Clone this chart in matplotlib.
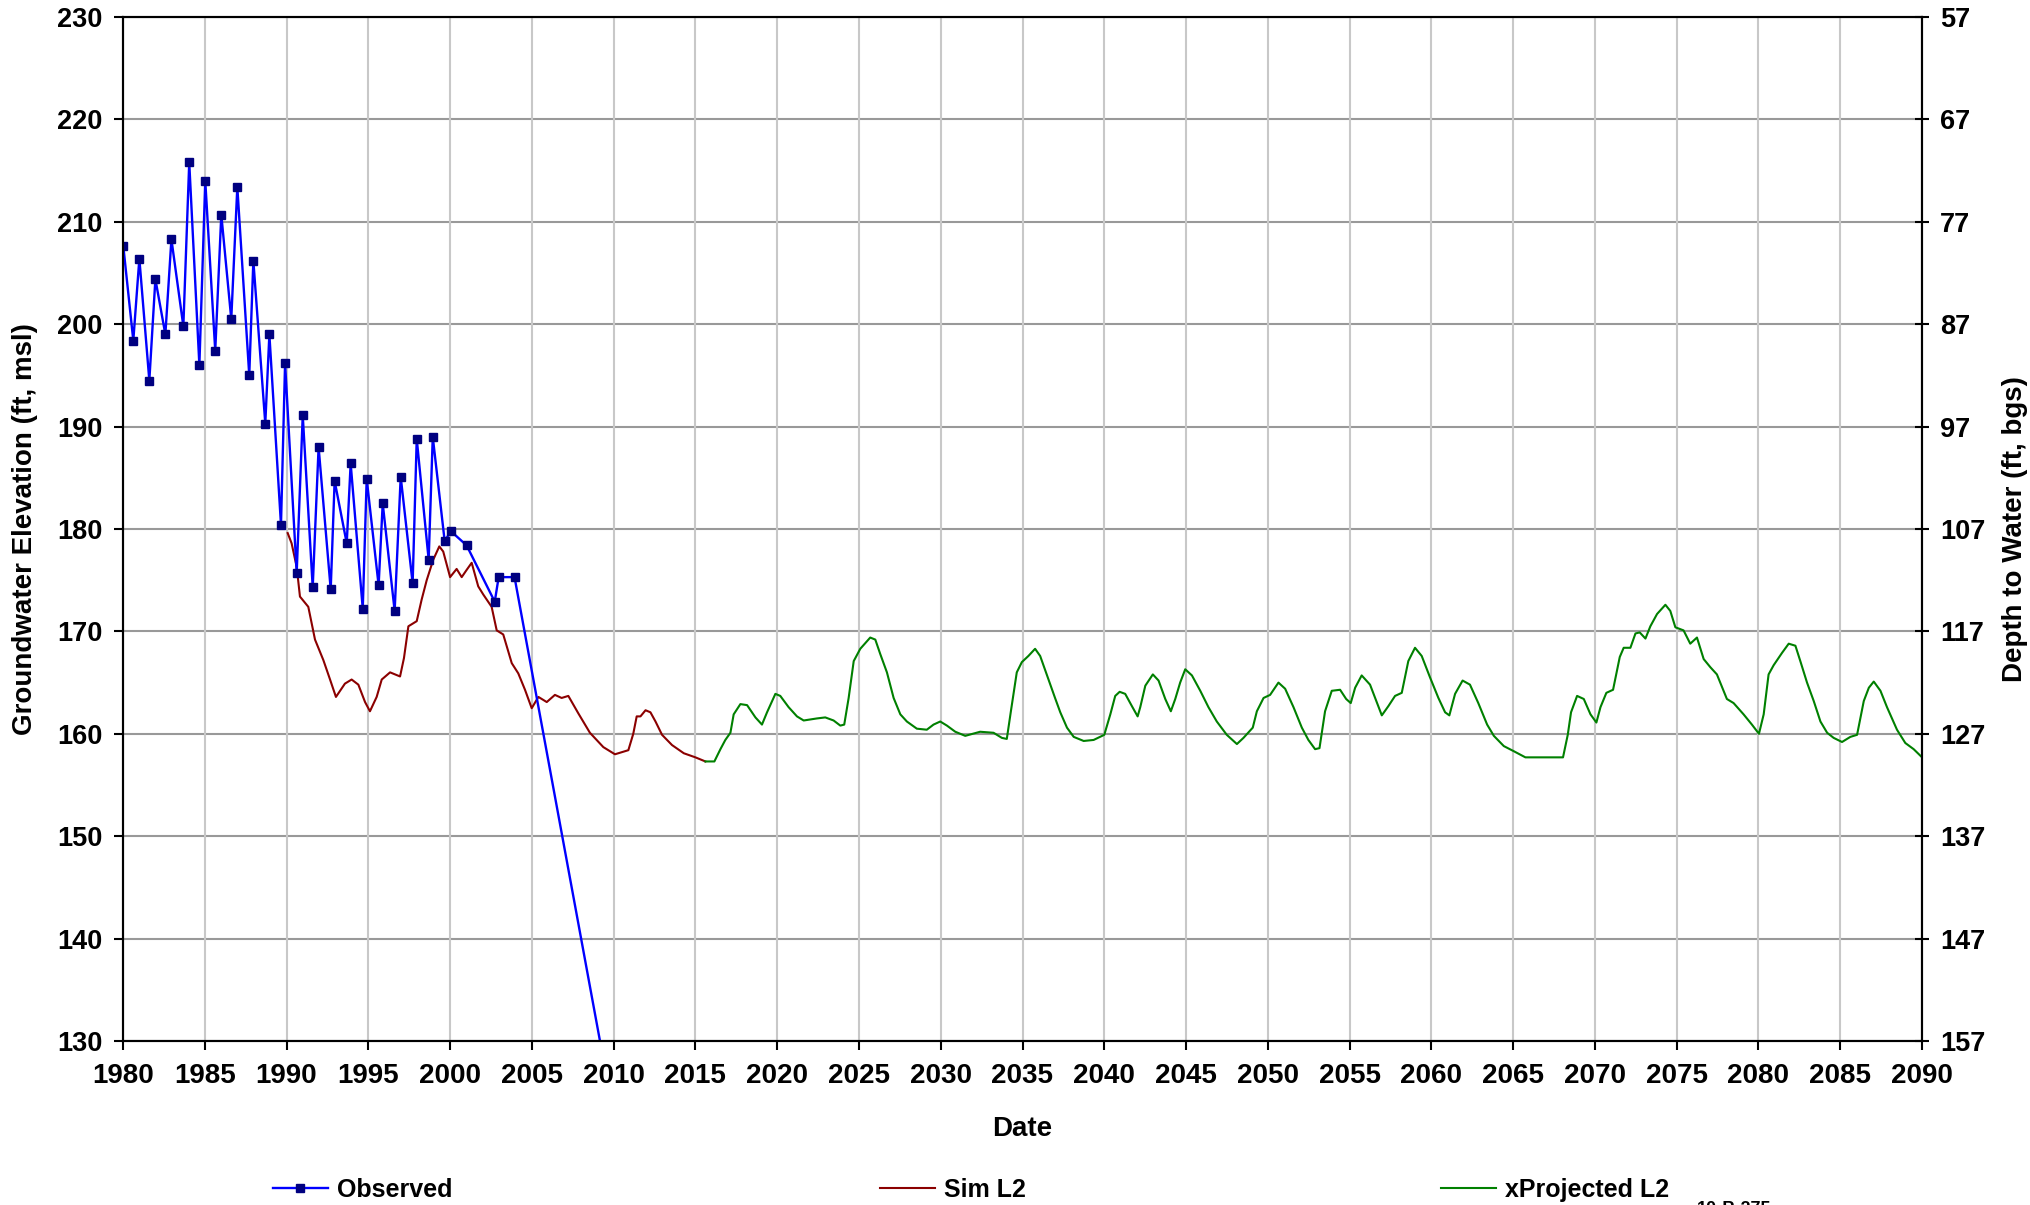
import matplotlib
matplotlib.use("Agg")
import matplotlib.pyplot as plt
from matplotlib.lines import Line2D

plt.rcParams['font.family'] = ['Liberation Sans', 'DejaVu Sans']
plt.rcParams['font.weight'] = 'bold'

# ---------------- data ----------------
obs_years = [1980.02, 1980.63, 1981.00, 1981.61, 1981.98, 1982.59, 1982.96, 1983.69,
             1984.05, 1984.67, 1985.03, 1985.64, 1986.01, 1986.62, 1986.99, 1987.72,
             1987.97, 1988.70, 1988.95, 1989.66, 1989.91, 1990.62, 1990.99, 1991.60,
             1991.96, 1992.70, 1992.94, 1993.68, 1993.92, 1994.66, 1994.90, 1995.63,
             1995.88, 1996.61, 1996.98, 1997.71, 1997.96, 1998.69, 1998.94, 1999.67,
             2000.04, 2001.01, 2002.73, 2002.97, 2003.94, 2024.16]
obs_vals = [207.6, 198.4, 206.4, 194.5, 204.4, 199.0, 208.3, 199.8,
            215.8, 196.0, 214.0, 197.4, 210.7, 200.5, 213.4, 195.0,
            206.2, 190.3, 199.0, 180.4, 196.2, 175.7, 191.1, 174.3,
            188.0, 174.1, 184.7, 178.6, 186.4, 172.2, 184.9, 174.5,
            182.5, 172.0, 185.1, 174.7, 188.8, 177.0, 189.0, 178.8,
            179.8, 178.4, 172.9, 175.3, 175.3, 0.0]

sim_years = [1990.07, 1990.31, 1990.62, 1990.82, 1991.33, 1991.74, 1992.25, 1992.66,
             1993.02, 1993.57, 1993.98, 1994.39, 1994.80, 1995.10, 1995.51, 1995.82,
             1996.33, 1996.94, 1997.18, 1997.45, 1997.96, 1998.26, 1998.57, 1998.97,
             1999.34, 1999.58, 2000.00, 2000.40, 2000.71, 2001.01, 2001.32, 2001.72,
             2002.03, 2002.54, 2002.85, 2003.25, 2003.77, 2004.17, 2004.58, 2004.99,
             2005.40, 2005.91, 2006.41, 2006.82, 2007.23, 2007.84, 2008.55, 2009.37,
             2010.08, 2010.90, 2011.20, 2011.41, 2011.64, 2011.95, 2012.25, 2012.56,
             2012.96, 2013.57, 2014.29, 2015.00, 2015.61]
sim_vals = [179.6, 178.6, 176.3, 173.4, 172.4, 169.2, 167.2, 165.3,
            163.6, 164.9, 165.3, 164.8, 163.1, 162.2, 163.6, 165.3,
            166.0, 165.6, 167.4, 170.5, 171.0, 173.1, 175.0, 177.0,
            178.3, 177.8, 175.3, 176.1, 175.3, 176.0, 176.7, 174.4,
            173.6, 172.4, 170.1, 169.7, 166.9, 165.9, 164.3, 162.5,
            163.6, 163.1, 163.8, 163.5, 163.7, 162.0, 160.1, 158.7,
            158.0, 158.4, 160.0, 161.7, 161.7, 162.3, 162.1, 161.2,
            159.9, 158.9, 158.1, 157.7, 157.3]

proj_years = [2015.61, 2016.16, 2016.53, 2016.83, 2017.14, 2017.34, 2017.75, 2018.16,
              2018.67, 2019.07, 2019.38, 2019.89, 2020.19, 2020.70, 2021.21, 2021.62,
              2022.43, 2022.94, 2023.45, 2023.86, 2024.10, 2024.37, 2024.68, 2025.08,
              2025.69, 2026.00, 2026.30, 2026.71, 2027.12, 2027.53, 2027.93, 2028.54,
              2029.15, 2029.56, 2029.97, 2030.38, 2030.89, 2031.50, 2032.41, 2033.23,
              2033.74, 2034.04, 2034.29, 2034.65, 2034.96, 2035.36, 2035.77, 2036.08,
              2036.48, 2036.99, 2037.31, 2037.72, 2038.13, 2038.74, 2039.35, 2040.00,
              2040.37, 2040.67, 2040.94, 2041.28, 2041.69, 2042.04, 2042.20, 2042.51,
              2042.97, 2043.32, 2043.73, 2044.07, 2044.34, 2044.64, 2044.95, 2045.36,
              2045.87, 2046.37, 2046.88, 2047.49, 2048.11, 2048.51, 2049.08, 2049.33,
              2049.74, 2050.14, 2050.65, 2051.06, 2051.57, 2052.08, 2052.48, 2052.89,
              2053.16, 2053.50, 2053.91, 2054.42, 2054.79, 2055.07, 2055.34, 2055.74,
              2056.25, 2056.56, 2056.97, 2057.37, 2057.78, 2058.19, 2058.59, 2059.00,
              2059.41, 2059.92, 2060.43, 2060.84, 2061.10, 2061.45, 2061.91, 2062.36,
              2062.87, 2063.41, 2063.82, 2064.43, 2065.04, 2065.75, 2066.67, 2068.05,
              2068.34, 2068.54, 2068.91, 2069.32, 2069.73, 2070.09, 2070.34, 2070.70,
              2071.11, 2071.52, 2071.76, 2072.17, 2072.48, 2072.74, 2073.09, 2073.39,
              2073.80, 2074.31, 2074.61, 2074.92, 2075.42, 2075.83, 2076.24, 2076.65,
              2077.06, 2077.46, 2078.07, 2078.48, 2079.09, 2079.60, 2080.03, 2080.32,
              2080.62, 2080.93, 2081.44, 2081.85, 2082.26, 2082.56, 2082.97, 2083.38,
              2083.79, 2084.20, 2084.60, 2085.11, 2085.62, 2086.03, 2086.44, 2086.75,
              2087.05, 2087.46, 2087.86, 2088.47, 2088.98, 2089.49, 2089.94]
proj_vals = [157.3, 157.3, 158.5, 159.4, 160.1, 161.9, 162.9, 162.8,
             161.6, 160.9, 162.1, 163.9, 163.7, 162.6, 161.7, 161.3,
             161.5, 161.6, 161.3, 160.8, 160.9, 163.5, 167.1, 168.3,
             169.4, 169.2, 167.8, 166.0, 163.5, 161.9, 161.2, 160.5,
             160.4, 160.9, 161.2, 160.8, 160.2, 159.8, 160.2, 160.1,
             159.6, 159.5, 162.2, 166.0, 167.0, 167.6, 168.3, 167.6,
             165.8, 163.5, 162.1, 160.6, 159.7, 159.3, 159.4, 159.9,
             161.9, 163.7, 164.1, 163.9, 162.7, 161.7, 162.6, 164.7,
             165.8, 165.2, 163.4, 162.2, 163.4, 165.0, 166.3, 165.7,
             164.2, 162.6, 161.2, 159.9, 159.0, 159.6, 160.6, 162.2,
             163.5, 163.8, 165.0, 164.4, 162.6, 160.6, 159.4, 158.5,
             158.6, 162.2, 164.2, 164.3, 163.4, 163.0, 164.5, 165.7,
             164.8, 163.5, 161.8, 162.7, 163.7, 164.0, 167.1, 168.4,
             167.6, 165.5, 163.5, 162.1, 161.8, 163.9, 165.2, 164.8,
             163.0, 160.9, 159.8, 158.8, 158.3, 157.7, 157.7, 157.7,
             159.9, 162.1, 163.7, 163.4, 161.9, 161.1, 162.6, 164.0,
             164.3, 167.5, 168.4, 168.4, 169.8, 169.9, 169.3, 170.5,
             171.7, 172.6, 172.0, 170.4, 170.1, 168.8, 169.4, 167.3,
             166.5, 165.8, 163.4, 163.0, 161.9, 160.9, 160.0, 161.9,
             165.8, 166.7, 167.9, 168.8, 168.6, 167.1, 165.0, 163.2,
             161.2, 160.1, 159.6, 159.2, 159.7, 159.9, 163.2, 164.5,
             165.1, 164.2, 162.6, 160.4, 159.1, 158.5, 157.8]

x_ticks = list(range(1980, 2091, 5))
left_ticks = list(range(130, 231, 10))
right_ticks = list(range(57, 158, 10))

# ---------------- figure ----------------
W, H = 2031, 1205
fig = plt.figure(figsize=(W / 100, H / 100), dpi=100)
ax = fig.add_axes([123 / W, 1 - 1041 / H, (1922 - 123) / W, (1041 - 17) / H])

ax.set_xlim(1980, 2090)
ax.set_ylim(130, 230)
ax.set_xticks(x_ticks)
ax.set_yticks(left_ticks)

# grid
for y in left_ticks:
    ax.axhline(y, color='#999999', lw=1.5, zorder=0)
for x in x_ticks:
    ax.axvline(x, color='#c8c8c8', lw=1.5, zorder=0)

ax.plot(obs_years, obs_vals, color='#0000ff', lw=1.7, marker='s', ms=5.5,
        mfc='#000080', mec='#000080', zorder=4)
ax.plot(sim_years, sim_vals, color='#8b0000', lw=1.5, zorder=3)
ax.plot(proj_years, proj_vals, color='#008000', lw=1.5, zorder=3)

for s in ax.spines.values():
    s.set_linewidth(1.5)
ax.tick_params(axis='both', which='major', labelsize=20, width=1.5, length=6.5,
               direction='out', pad=9)
ax.tick_params(axis='y', labelsize=19.5, pad=8)
for lab in ax.get_xticklabels() + ax.get_yticklabels():
    lab.set_fontweight('bold')

ax.set_xlabel('Date', fontsize=20, fontweight='bold', labelpad=20)
ax.set_ylabel('Groundwater Elevation (ft, msl)', fontsize=20, fontweight='bold', labelpad=14)

ax2 = ax.twinx()
ax2.set_ylim(157, 57)
ax2.set_yticks(right_ticks)
ax2.tick_params(axis='y', labelsize=19.5, width=1.5, length=10, direction='inout', pad=8)
for lab in ax2.get_yticklabels():
    lab.set_fontweight('bold')
for s in ax2.spines.values():
    s.set_linewidth(1.5)
ax2.set_ylabel('Depth to Water (ft, bgs)', fontsize=20, fontweight='bold',
               rotation=90, labelpad=12)

# legend (three entries spread along the bottom)
h_obs = Line2D([], [], color='#0000ff', lw=1.7, marker='s', ms=5.5,
               mfc='#000080', mec='#000080')
h_sim = Line2D([], [], color='#8b0000', lw=1.5)
h_proj = Line2D([], [], color='#008000', lw=1.5)
ly = 1 - 1190 / H
for h, lbl, x0 in [(h_obs, 'Observed', 273), (h_sim, 'Sim L2', 880), (h_proj, 'xProjected L2', 1441)]:
    fig.legend(handles=[h], labels=[lbl], loc='center left',
               bbox_to_anchor=(x0 / W, ly), frameon=False, borderpad=0,
               borderaxespad=0, handlelength=2.2, handletextpad=0.35,
               prop={'size': 18, 'weight': 'bold'})

# partially cut-off note at the bottom edge
fig.text(1697 / W, 1 - 1201 / H, '10-P-275', fontsize=13, fontweight='bold',
         va='top', ha='left')

fig.savefig('out.png', dpi=100)
